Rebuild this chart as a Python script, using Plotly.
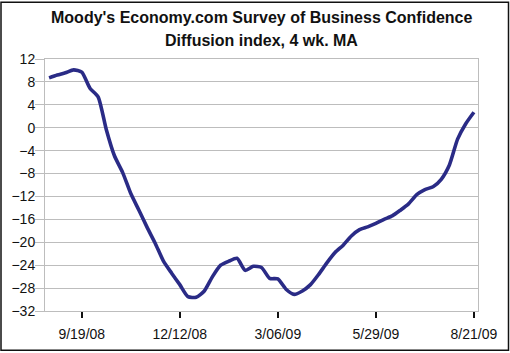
import pandas as pd
import plotly.graph_objects as go

start_date = "2008-08-22"
values = [8.7, 9.2, 9.6, 10.1, 9.7, 6.9, 5.4, -0.3, -4.9, -7.8,
          -11.5, -14.4, -17.4, -20.2, -23.3, -25.4, -27.4, -29.5, -29.6, -28.5,
          -26.0, -24.0, -23.3, -22.8, -24.9, -24.2, -24.4, -26.3, -26.4, -28.2,
          -29.1, -28.5, -27.4, -25.6, -23.6, -21.8, -20.5, -18.9, -17.8, -17.3,
          -16.7, -16.0, -15.4, -14.4, -13.3, -11.7, -10.8, -10.3, -9.0, -6.5,
          -2.0, 0.7, 2.7]
tick_dates = ["2008-09-19", "2008-12-12", "2009-03-06", "2009-05-29", "2009-08-21"]
tick_labels = ["9/19/08", "12/12/08", "3/06/09", "5/29/09", "8/21/09"]
y_ticks = list(range(12, -33, -4))

dates = pd.date_range(start_date, periods=len(values), freq="7D")

W, H = 510, 353
L, R, T, B = 45, 32, 58.5, 41.5
pw, ph = W - L - R, H - T - B

fig = go.Figure()
fig.add_trace(go.Scatter(x=dates, y=values, mode="lines",
                         line=dict(color="#2a2b86", width=3.6,
                                   shape="spline", smoothing=0.6),
                         hoverinfo="skip"))

half = pd.Timedelta(hours=84)
font = "Arial, 'Liberation Sans', sans-serif"
fig.update_layout(
    width=W, height=H,
    margin=dict(l=L, r=R, t=T, b=B, pad=0),
    paper_bgcolor="white", plot_bgcolor="white",
    showlegend=False,
    font=dict(family=font, size=14, color="#111111"),
    xaxis=dict(range=[dates[0] - half, dates[-1] + half],
               tickvals=pd.to_datetime(tick_dates), ticktext=tick_labels,
               ticks="outside", ticklen=6, tickwidth=2, tickcolor="#111111",
               ticklabelstandoff=4,
               showgrid=False, zeroline=False,
               showline=True, linecolor="#bdbdbd", linewidth=1, mirror=True,
               tickfont=dict(size=14)),
    yaxis=dict(range=[-32, 12], tickvals=y_ticks,
               ticks="outside", ticklen=9, tickwidth=1, tickcolor="#bdbdbd",
               ticklabelstandoff=-3,
               showgrid=True, gridcolor="#bdbdbd", gridwidth=1.3,
               zeroline=False,
               showline=True, linecolor="#bdbdbd", linewidth=1, mirror=True,
               tickfont=dict(size=14)),
)

fig.add_annotation(text="<b>Moody's Economy.com Survey of Business Confidence</b>",
                   xref="paper", yref="paper",
                   x=(261 - L) / pw, y=(H - B - 17) / ph,
                   xanchor="center", yanchor="middle", showarrow=False,
                   font=dict(size=16, color="#111111", family=font))
fig.add_annotation(text="<b>Diffusion index, 4 wk. MA</b>",
                   xref="paper", yref="paper",
                   x=(261 - L) / pw, y=(H - B - 40) / ph,
                   xanchor="center", yanchor="middle", showarrow=False,
                   font=dict(size=16, color="#111111", family=font))

fig.add_shape(type="rect", xref="paper", yref="paper",
              x0=(1 - L) / pw, x1=(508.5 - L) / pw,
              y0=(H - B - 351) / ph, y1=(H - B - 1.5) / ph,
              line=dict(color="#111111", width=1.5), layer="below")

fig.write_html("out.html")
